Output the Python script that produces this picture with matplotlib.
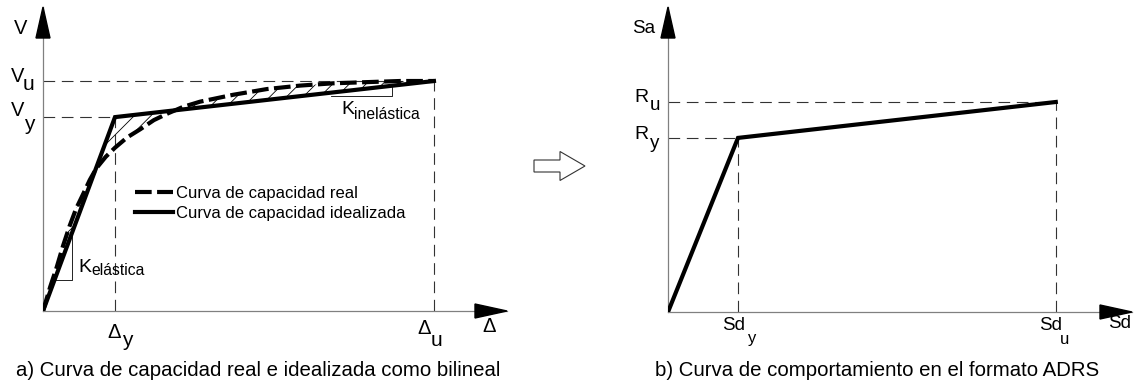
import numpy as np
import matplotlib
matplotlib.use("Agg")
import matplotlib.pyplot as plt
from matplotlib.patches import Polygon, FancyArrow

plt.rcParams['font.family'] = ['Liberation Sans', 'DejaVu Sans']
plt.rcParams['hatch.linewidth'] = 0.6

## Data (a): capacity curve, arbitrary units (delta_y = 1, V_u = 1)
delta_y = 1.0
delta_u = 5.43
v_y = 0.843
v_u = 1.0

# real capacity curve
real_x = [0, 0.1, 0.19, 0.28, 0.37, 0.46, 0.56, 0.65, 0.74, 0.87, 1.0, 1.17, 1.35, 1.54,
          1.74, 1.95, 2.18, 2.64, 3.11, 3.57, 4.03, 4.49, 4.96, 5.43]
real_v = [0, 0.105, 0.19, 0.285, 0.37, 0.445, 0.51, 0.57, 0.62, 0.67, 0.71, 0.755, 0.79, 0.83,
          0.86, 0.888, 0.91, 0.94, 0.965, 0.98, 0.99, 0.995, 1.0, 1.0]

# idealized bilinear curve
ideal_x = [0, delta_y, delta_u]
ideal_v = [0, v_y, v_u]

# stiffness triangles
k_el_x = [0.16, 0.40]
k_el_v = 0.135
k_in_x = [4.0, 4.85]
k_in_v = 0.935

## Data (b): ADRS format
sd_y = 1.0
sd_u = 5.54
r_y = 0.829
r_u = 1.0
adrs_x = [0, sd_y, sd_u]
adrs_v = [0, r_y, r_u]

W, H = 1138, 384
fig = plt.figure(figsize=(W/100, H/100), dpi=100)

AXIS_GREY = '#808080'
DASH_COL = '#333333'
dash = (0, (10.5, 6))


def make_axes(x0, y0, x1, y1, xmax, ymax):
    # pixel box of the axes (origin at x0,y0 ; arrow tips at x1,y1)
    ax = fig.add_axes([x0/W, (H-y0)/H, (x1-x0)/W, (y0-y1)/H])
    ax.set_xlim(0, xmax)
    ax.set_ylim(0, ymax)
    for s in ['top', 'right']:
        ax.spines[s].set_visible(False)
    for s in ['left', 'bottom']:
        ax.spines[s].set_color(AXIS_GREY)
        ax.spines[s].set_linewidth(0.9)
    ax.set_xticks([])
    ax.set_yticks([])
    ax.patch.set_alpha(0)
    w, h = x1-x0, y0-y1
    ax.add_patch(Polygon([(0, 1), (-7/w, 1-31/h), (7/w, 1-31/h)], closed=True,
                         transform=ax.transAxes, color='k', clip_on=False, zorder=5))
    ax.add_patch(Polygon([(1, 0), (1-32/w, 7/h), (1-32/w, -7/h)], closed=True,
                         transform=ax.transAxes, color='k', clip_on=False, zorder=5))
    return ax


def label(ax, txt, xy, off, size, coords=('data', 'data')):
    ax.annotate(txt, xy=xy, xycoords=coords, xytext=off, textcoords='offset pixels',
                ha='center', va='center', fontsize=size, annotation_clip=False)


#--- panel a
ax1 = make_axes(43, 311, 507, 7, 464/72, 304/230)

ax1.plot([0, delta_u], [v_u, v_u], color=DASH_COL, lw=0.8, ls=dash)
ax1.plot([0, delta_y], [v_y, v_y], color=DASH_COL, lw=0.8, ls=dash)
ax1.plot([delta_y, delta_y], [0, v_y], color=DASH_COL, lw=0.8, ls=dash)
ax1.plot([delta_u, delta_u], [0, v_u], color=DASH_COL, lw=0.8, ls=dash)

# hatched area between real and idealized curves
poly_x = np.concatenate([real_x, ideal_x[::-1]])
poly_v = np.concatenate([real_v, ideal_v[::-1]])
ax1.fill(poly_x, poly_v, facecolor='none', edgecolor='k', lw=0, hatch='//', zorder=2)

ax1.plot(real_x, real_v, color='k', lw=3, ls=(0, (4, 1.3)), zorder=3,
         label='Curva de capacidad real')
ax1.plot(ideal_x, ideal_v, color='k', lw=3, solid_joinstyle='miter', zorder=4,
         label='Curva de capacidad idealizada')

# stiffness triangles
slope_el = v_y/delta_y
ax1.plot([k_el_x[0], k_el_x[1], k_el_x[1]], [k_el_v, k_el_v, slope_el*k_el_x[1]],
         color='k', lw=0.6)
slope_in = (v_u-v_y)/(delta_u-delta_y)
ax1.plot([k_in_x[0], k_in_x[1], k_in_x[1]],
         [k_in_v, k_in_v, v_y + slope_in*(k_in_x[1]-delta_y)], color='k', lw=0.6)
label(ax1, 'K', (k_el_x[1], k_el_v), (13, 12), 14)
ax1.annotate('elástica', xy=(k_el_x[1], k_el_v), xytext=(20, 9), textcoords='offset pixels',
             ha='left', va='center', fontsize=11.3)
label(ax1, 'K', (k_in_x[0], k_in_v), (17, -14), 14)
ax1.annotate('inelástica', xy=(k_in_x[0], k_in_v), xytext=(23, -19), textcoords='offset pixels',
             ha='left', va='center', fontsize=11.3)

# axis labels
yax = ('axes fraction', 'data')
label(ax1, 'V', (0, 1.23), (-22, 0), 14.5, yax)
label(ax1, 'V', (0, v_u), (-25, 5), 14.5, yax)
label(ax1, 'u', (0, v_u), (-14, -4), 15, yax)
label(ax1, 'V', (0, v_y), (-25, 7), 14.5, yax)
label(ax1, 'y', (0, v_y), (-14, -7), 15, yax)
xax = ('data', 'axes fraction')
label(ax1, 'Δ', (delta_y, 0), (-1, -21), 14.5, xax)
label(ax1, 'y', (delta_y, 0), (12, -30), 15, xax)
label(ax1, 'Δ', (delta_u, 0), (-10, -17), 14.5, xax)
label(ax1, 'u', (delta_u, 0), (3, -29), 15, xax)
label(ax1, 'Δ', (1, 0), (-18, -16), 14.5, ('axes fraction', 'axes fraction'))

ax1.legend(loc='upper left', bbox_to_anchor=(135/W, 1-186/H), bbox_transform=fig.transFigure,
           frameon=False, fontsize=12, handlelength=2.25, handletextpad=0.2,
           labelspacing=0.28, borderpad=0, borderaxespad=0)

#--- panel b
ax2 = make_axes(668, 312, 1132, 7, 464/70, 305/210)
ax2.plot([0, sd_u], [r_u, r_u], color=DASH_COL, lw=0.8, ls=dash)
ax2.plot([0, sd_y], [r_y, r_y], color=DASH_COL, lw=0.8, ls=dash)
ax2.plot([sd_y, sd_y], [0, r_y], color=DASH_COL, lw=0.8, ls=dash)
ax2.plot([sd_u, sd_u], [0, r_u], color=DASH_COL, lw=0.8, ls=dash)
ax2.plot(adrs_x, adrs_v, color='k', lw=3, solid_joinstyle='miter', zorder=4)

label(ax2, 'Sa', (0, 1.348), (-24, 0), 13.5, yax)
label(ax2, 'R', (0, r_u), (-27, 5), 14, yax)
label(ax2, 'u', (0, r_u), (-13, -4), 13.5, yax)
label(ax2, 'R', (0, r_y), (-27, 3), 14, yax)
label(ax2, 'y', (0, r_y), (-13, -6), 13.5, yax)
label(ax2, 'Sd', (sd_y, 0), (-4, -14), 13.5, xax)
label(ax2, 'y', (sd_y, 0), (14, -26), 12, xax)
label(ax2, 'Sd', (sd_u, 0), (-5, -14), 13.5, xax)
label(ax2, 'u', (sd_u, 0), (9, -27), 12, xax)
label(ax2, 'Sd', (1, 0), (-12, -12), 13.5, ('axes fraction', 'axes fraction'))

# hollow arrow between panels
fig.add_artist(FancyArrow(5.34, (H-166)/100, 0.51, 0, width=0.12, head_width=0.29,
                          head_length=0.25, length_includes_head=True,
                          transform=fig.dpi_scale_trans, fc='white', ec='#333333', lw=0.8))

fig.text(258/W, 14/H, 'a) Curva de capacidad real e idealizada como bilineal',
         ha='center', va='center', fontsize=14.7)
fig.text(877/W, 14/H, 'b) Curva de comportamiento en el formato ADRS',
         ha='center', va='center', fontsize=14.7)

fig.savefig('out.png', dpi=100)
